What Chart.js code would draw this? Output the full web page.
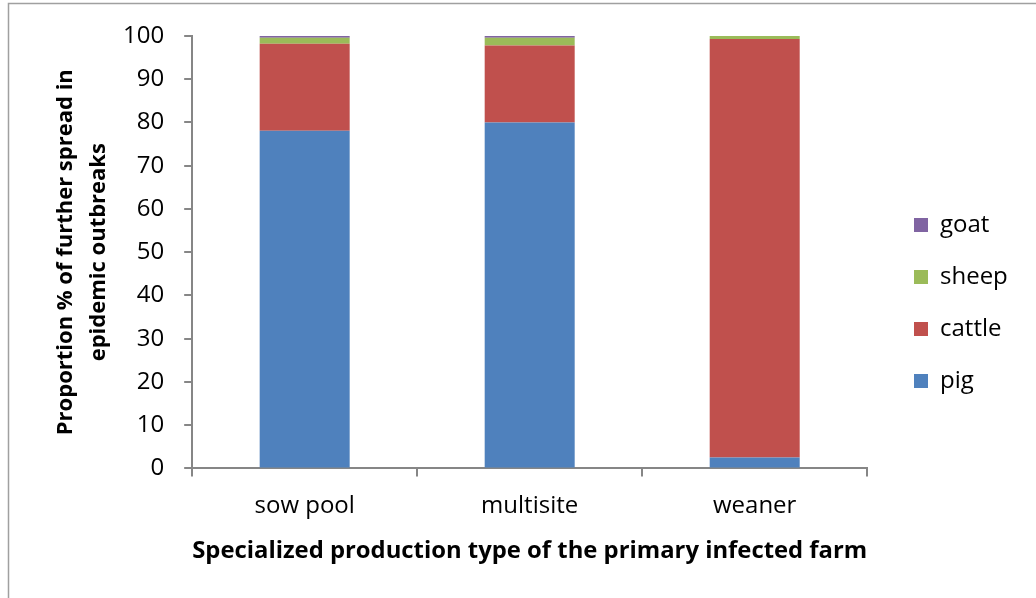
<!DOCTYPE html>
<html>
<head>
<meta charset="utf-8">
<script src="https://cdn.jsdelivr.net/npm/chart.js@4"></script>
<style>
  html, body { margin: 0; padding: 0; background: #fff; }
  #wrap { width: 1036px; height: 598px; }
</style>
</head>
<body>
<div id="wrap"><canvas id="myChart" width="1036" height="598"></canvas></div>
<script>
var categories = ['sow pool', 'multisite', 'weaner'];
var pig = [78.1, 80.0, 2.5];
var cattle = [20.1, 17.8, 96.8];
var sheep = [1.4, 1.8, 0.7];
var goat = [0.4, 0.4, 0];
var yTicks = [0, 10, 20, 30, 40, 50, 60, 70, 80, 90, 100];

var fontFamily = '"Open Sans", Lato, sans-serif';
var axisColor = '#868686';

// frame around the picture, like the exported chart
var framePlugin = {
    id: 'frame',
    beforeDraw: function (chart) {
        var ctx = chart.ctx;
        ctx.save();
        ctx.fillStyle = '#fff';
        ctx.fillRect(0, 0, chart.width, chart.height);
        ctx.strokeStyle = '#a0a0a0';
        ctx.lineWidth = 1.5;
        ctx.strokeRect(8.5, 3.5, chart.width + 20, chart.height + 20);
        ctx.restore();
    }
};

// push the legend a bit further from the plot, as in the original
var legendShift = {
    id: 'legendShift',
    afterLayout: function (chart) {
        var lg = chart.legend;
        var dx = 914 - (lg.left + lg.options.labels.padding);
        lg.left += dx;
        lg.right += dx;
    }
};

var ctx = document.getElementById('myChart').getContext('2d');

var myChart = new Chart(ctx, {
    type: 'bar',
    data: {
        labels: categories,
        datasets: [
            { label: 'pig', data: pig, backgroundColor: '#4F81BD' },
            { label: 'cattle', data: cattle, backgroundColor: '#C0504D' },
            { label: 'sheep', data: sheep, backgroundColor: '#9BBB59' },
            { label: 'goat', data: goat, backgroundColor: '#8064A2' }
        ]
    },
    options: {
        responsive: false,
        animation: false,
        layout: {
            padding: { top: 36, right: 37, bottom: 28, left: 44 }
        },
        datasets: {
            bar: { barPercentage: 0.4, categoryPercentage: 1.0, borderWidth: 0 }
        },
        scales: {
            x: {
                stacked: true,
                grid: { drawOnChartArea: false, drawTicks: true, tickLength: 8, color: axisColor, lineWidth: 2 },
                border: { color: axisColor, width: 2 },
                ticks: { color: '#000', font: { family: fontFamily, size: 24 }, padding: 15 },
                title: {
                    display: true,
                    text: 'Specialized production type of the primary infected farm',
                    color: '#000',
                    font: { family: fontFamily, size: 24, weight: 'bold' },
                    padding: { top: 2 }
                }
            },
            y: {
                stacked: true,
                min: 0,
                max: 100,
                afterBuildTicks: function (axis) {
                    axis.ticks = yTicks.map(function (v) { return { value: v }; });
                },
                grid: { drawOnChartArea: false, drawTicks: true, tickLength: 8, color: axisColor, lineWidth: 2 },
                border: { color: axisColor, width: 2 },
                ticks: { color: '#000', font: { family: fontFamily, size: 24 }, padding: 20 },
                title: {
                    display: true,
                    text: ['Proportion % of further spread in', 'epidemic outbreaks'],
                    color: '#000',
                    font: { family: fontFamily, size: 22, weight: 'bold', lineHeight: 1.5 },
                    padding: { top: 5, bottom: -12 }
                }
            }
        },
        plugins: {
            legend: {
                position: 'right',
                reverse: true,
                labels: {
                    color: '#000',
                    font: { family: fontFamily, size: 24 },
                    boxWidth: 14,
                    boxHeight: 14,
                    padding: 28
                }
            },
            tooltip: { enabled: false }
        }
    },
    plugins: [framePlugin, legendShift]
});
</script>
</body>
</html>
